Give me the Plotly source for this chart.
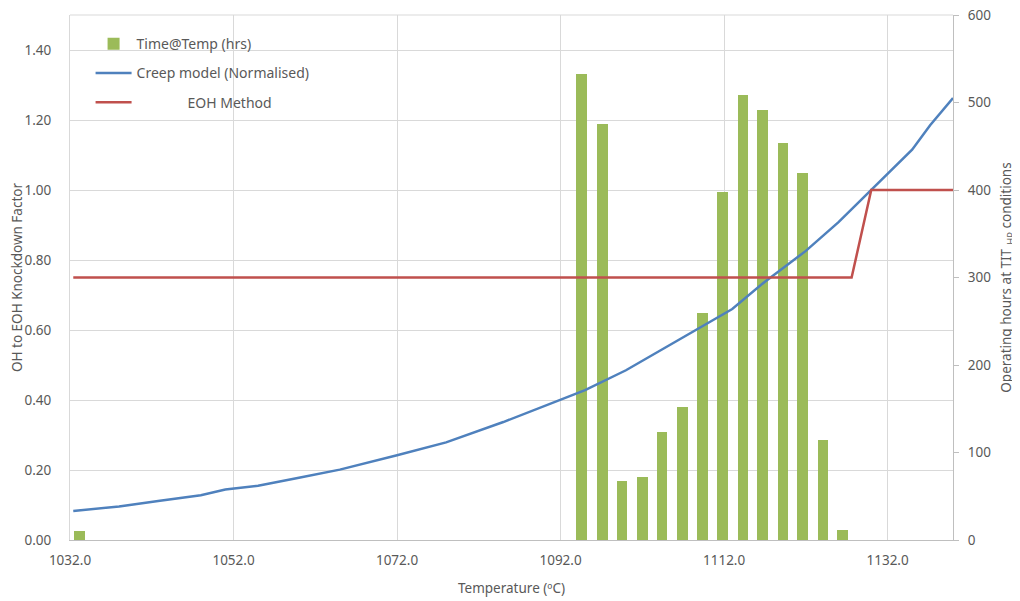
import plotly.graph_objects as go

# ---- data ----
bar_temps = [1033.2, 1094.6, 1097.1, 1099.5, 1102.0, 1104.4, 1106.9, 1109.4,
             1111.8, 1114.3, 1116.7, 1119.2, 1121.6, 1124.1, 1126.5]
bar_hours = [10, 533, 476, 67, 72, 123, 152, 260, 398, 509, 491, 454, 420, 114, 12]

creep_temps = [1032.4, 1035, 1038, 1043, 1048, 1051, 1055, 1060, 1065, 1072, 1078,
               1085, 1092, 1095, 1100, 1105, 1109, 1113, 1117, 1122, 1126, 1130,
               1135, 1137.2, 1140]
creep_vals = [0.083, 0.089, 0.096, 0.112, 0.128, 0.144, 0.155, 0.178, 0.201, 0.242,
              0.279, 0.337, 0.402, 0.428, 0.485, 0.552, 0.607, 0.660, 0.738, 0.826,
              0.908, 1.000, 1.115, 1.185, 1.263]

eoh_temps = [1032.4, 1127.6, 1130.0, 1140.0]
eoh_vals = [0.75, 0.75, 1.00, 1.00]

x_ticks = [1032, 1052, 1072, 1092, 1112, 1132]

GRID = "#d9d9d9"
TXT = "#595959"
FONT = "Noto Sans, Open Sans, DejaVu Sans, sans-serif"

fig = go.Figure()
fig.add_trace(go.Bar(
    x=bar_temps, y=bar_hours, width=1.31, name="Time@Temp (hrs)",
    marker=dict(color="#9bbb59", line=dict(width=0)), yaxis="y",
    legendgroup="a"))
fig.add_trace(go.Scatter(
    x=creep_temps, y=creep_vals, mode="lines", name="Creep model (Normalised)",
    line=dict(color="#4f81bd", width=2.5), yaxis="y2", legendgroup="b"))
fig.add_trace(go.Scatter(
    x=eoh_temps, y=eoh_vals, mode="lines",
    name="\u00a0" * 14 + "EOH Method",
    line=dict(color="#c0504d", width=2.5), yaxis="y2", legendgroup="c"))

# page body has an 8px default margin, so the figure is 8px smaller
fig.update_layout(
    width=1012, height=593,
    margin=dict(l=62, r=67, t=7, b=61, autoexpand=False),
    paper_bgcolor="white", plot_bgcolor="white",
    font=dict(family=FONT, size=13, color=TXT),
    showlegend=True,
    legend=dict(x=0.0233, y=0.975, xanchor="left", yanchor="top",
                bgcolor="rgba(0,0,0,0)", font=dict(size=14, color=TXT),
                itemwidth=36, traceorder="grouped", tracegroupgap=8),
    xaxis=dict(range=[1032, 1140], tickvals=x_ticks, tickformat=".1f",
               showgrid=True, gridcolor=GRID, gridwidth=1,
               showline=True, linecolor="#bfbfbf", linewidth=1.3,
               ticks="", zeroline=False, automargin=False,
               ticklabelstandoff=8,
               tickfont=dict(size=13.5, color=TXT),
               title=dict(text="Temperature (ºC)", font=dict(size=13.5, color=TXT),
                          standoff=15)),
    yaxis=dict(range=[0, 600], dtick=100, side="right", showgrid=False,
               zeroline=False, showline=True, linecolor="#bfbfbf", linewidth=1.3,
               ticks="outside", ticklen=5, tickcolor="#bfbfbf", automargin=False,
               ticklabelstandoff=6, ticklabeloverflow="allow",
               tickfont=dict(size=13.5, color=TXT),
               title=dict(text="Operating hours at TIT<sub>_HP</sub> conditions",
                          font=dict(size=13.5, color=TXT), standoff=11)),
    yaxis2=dict(range=[0, 1.5], tickvals=[0, 0.2, 0.4, 0.6, 0.8, 1.0, 1.2, 1.4],
                tickformat=".2f", overlaying="y", side="left",
                showgrid=True, gridcolor=GRID, gridwidth=1, zeroline=False,
                showline=True, linecolor=GRID, linewidth=1, ticks="",
                ticklabelstandoff=15, automargin=False,
                tickfont=dict(size=13.5, color=TXT),
                title=dict(text="OH to EOH Knockdown Factor",
                           font=dict(size=13.5, color=TXT), standoff=0)),
    shapes=[dict(type="line", xref="paper", yref="paper", x0=0, x1=1, y0=1, y1=1,
                 line=dict(color=GRID, width=1))],
    bargap=0,
)

fig.write_html("out.html")
